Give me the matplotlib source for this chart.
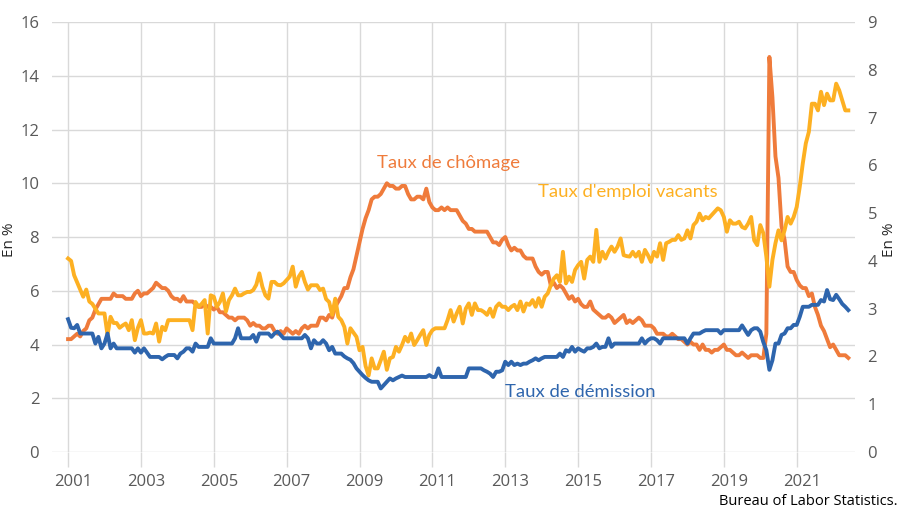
import numpy as np
import matplotlib
matplotlib.use("Agg")
import matplotlib.pyplot as plt
from matplotlib.transforms import ScaledTranslation

# Données mensuelles, janvier 2001 - juin 2022 (en %)
chomage = [
    4.2, 4.2, 4.3, 4.4, 4.3, 4.5, 4.6, 4.9, 5.0, 5.3, 5.5, 5.7,
    5.7, 5.7, 5.7, 5.9, 5.8, 5.8, 5.8, 5.7, 5.7, 5.7, 5.9, 6.0,
    5.8, 5.9, 5.9, 6.0, 6.1, 6.3, 6.2, 6.1, 6.1, 6.0, 5.8, 5.7,
    5.7, 5.6, 5.8, 5.6, 5.6, 5.6, 5.5, 5.4, 5.4, 5.5, 5.4, 5.4,
    5.3, 5.4, 5.2, 5.2, 5.1, 5.0, 5.0, 4.9, 5.0, 5.0, 5.0, 4.9,
    4.7, 4.8, 4.7, 4.7, 4.6, 4.6, 4.7, 4.7, 4.5, 4.4, 4.5, 4.4,
    4.6, 4.5, 4.4, 4.5, 4.4, 4.6, 4.7, 4.6, 4.7, 4.7, 4.7, 5.0,
    5.0, 4.9, 5.1, 5.0, 5.4, 5.6, 5.8, 6.1, 6.1, 6.5, 6.8, 7.3,
    7.8, 8.3, 8.7, 9.0, 9.4, 9.5, 9.5, 9.6, 9.8, 10.0, 9.9, 9.9,
    9.8, 9.8, 9.9, 9.9, 9.6, 9.4, 9.4, 9.5, 9.5, 9.4, 9.8, 9.3,
    9.1, 9.0, 9.0, 9.1, 9.0, 9.1, 9.0, 9.0, 9.0, 8.8, 8.6, 8.5,
    8.3, 8.3, 8.2, 8.2, 8.2, 8.2, 8.2, 8.0, 7.8, 7.8, 7.7, 7.9,
    8.0, 7.7, 7.5, 7.6, 7.5, 7.5, 7.3, 7.2, 7.2, 7.2, 6.9, 6.7,
    6.6, 6.7, 6.7, 6.2, 6.3, 6.1, 6.2, 6.1, 5.9, 5.7, 5.8, 5.6,
    5.7, 5.5, 5.4, 5.4, 5.6, 5.3, 5.2, 5.1, 5.0, 5.0, 5.1, 5.0,
    4.8, 4.9, 5.0, 5.1, 4.8, 4.9, 4.8, 4.9, 5.0, 4.9, 4.7, 4.7,
    4.7, 4.6, 4.4, 4.4, 4.4, 4.3, 4.3, 4.4, 4.3, 4.2, 4.2, 4.1,
    4.0, 4.1, 4.0, 4.0, 3.8, 4.0, 3.8, 3.8, 3.7, 3.8, 3.8, 3.9,
    4.0, 3.8, 3.8, 3.7, 3.6, 3.6, 3.7, 3.6, 3.5, 3.6, 3.6, 3.6,
    3.5, 3.5, 4.4, 14.7, 13.2, 11.0, 10.2, 8.4, 7.9, 6.9, 6.7, 6.7,
    6.4, 6.2, 6.1, 6.1, 5.8, 5.9, 5.4, 5.1, 4.7, 4.5, 4.2, 3.9,
    4.0, 3.8, 3.6, 3.6, 3.6, 3.5,
]

emplois_vacants = [
    4.05, 4.0, 3.7, 3.55, 3.4, 3.25, 3.4, 3.15, 3.1, 3.0, 2.9, 2.9,
    2.9, 2.45, 2.83, 2.7, 2.7, 2.6, 2.65, 2.69, 2.55, 2.76, 2.34, 2.6,
    2.76, 2.48, 2.48, 2.5, 2.48, 2.69, 2.31, 2.62, 2.55, 2.76, 2.76, 2.76,
    2.76, 2.76, 2.76, 2.76, 2.76, 2.55, 3.14, 3.04, 3.1, 3.18, 2.48, 3.28,
    3.25, 3.04, 3.14, 3.32, 2.94, 3.18, 3.28, 3.42, 3.28, 3.28, 3.32, 3.35,
    3.35, 3.39, 3.5, 3.74, 3.46, 3.28, 3.21, 3.56, 3.56, 3.5, 3.49, 3.53,
    3.6, 3.67, 3.88, 3.46, 3.67, 3.77, 3.56, 3.4, 3.49, 3.49, 3.49, 3.39,
    3.42, 3.2, 3.14, 2.87, 3.21, 2.83, 2.76, 2.62, 2.27, 2.59, 2.5, 2.41,
    2.13, 2.2, 1.8, 1.6, 1.96, 1.75, 1.75, 1.92, 2.1, 1.72, 1.96, 1.99,
    2.2, 2.1, 2.24, 2.41, 2.31, 2.48, 2.24, 2.34, 2.45, 2.55, 2.24, 2.45,
    2.55, 2.59, 2.59, 2.59, 2.59, 2.76, 2.97, 2.73, 2.9, 3.04, 2.69, 3.0,
    3.11, 2.87, 3.11, 2.97, 2.97, 2.93, 2.87, 3.0, 2.83, 3.04, 3.11, 3.04,
    3.04, 2.97, 3.04, 3.08, 2.97, 3.15, 2.94, 3.11, 3.08, 3.18, 3.04, 3.22,
    3.04, 3.25, 3.32, 3.49, 3.63, 3.7, 3.56, 4.19, 3.53, 3.67, 3.56, 3.81,
    3.91, 3.98, 3.63, 4.02, 4.09, 3.98, 4.65, 3.98, 4.19, 4.05, 4.19, 4.3,
    4.19, 4.3, 4.47, 4.12, 4.1, 4.09, 4.19, 4.09, 4.19, 3.98, 4.23, 4.12,
    3.98, 4.19, 4.09, 4.37, 4.02, 4.37, 4.4, 4.44, 4.44, 4.54, 4.44, 4.47,
    4.64, 4.47, 4.75, 4.82, 4.99, 4.85, 4.92, 4.89, 4.96, 5.03, 5.1, 5.06,
    4.92, 4.61, 4.85, 4.78, 4.78, 4.82, 4.71, 4.68, 4.78, 4.92, 4.43, 4.33,
    4.75, 4.58, 4.09, 3.46, 4.02, 4.37, 4.64, 4.43, 4.64, 4.92, 4.78, 4.92,
    5.13, 5.55, 6.04, 6.46, 6.7, 7.29, 7.29, 7.15, 7.54, 7.26, 7.5, 7.36,
    7.36, 7.71, 7.57, 7.36, 7.15, 7.15,
]

demission = [
    2.78, 2.6, 2.59, 2.66, 2.48, 2.48, 2.48, 2.48, 2.48, 2.27, 2.41, 2.17,
    2.27, 2.48, 2.17, 2.27, 2.17, 2.17, 2.17, 2.17, 2.17, 2.17, 2.08, 2.17,
    2.08, 2.17, 2.08, 1.99, 1.99, 1.99, 1.99, 1.94, 1.99, 2.03, 2.03, 2.03,
    1.96, 2.06, 2.1, 2.17, 2.17, 2.1, 2.27, 2.2, 2.2, 2.2, 2.2, 2.38,
    2.27, 2.27, 2.27, 2.27, 2.27, 2.27, 2.27, 2.38, 2.59, 2.38, 2.38, 2.38,
    2.38, 2.45, 2.31, 2.48, 2.48, 2.48, 2.48, 2.41, 2.48, 2.52, 2.45, 2.38,
    2.38, 2.38, 2.38, 2.38, 2.38, 2.38, 2.45, 2.38, 2.17, 2.34, 2.27, 2.27,
    2.34, 2.27, 2.13, 2.2, 2.06, 2.06, 2.06, 2.0, 1.96, 1.93, 1.86, 1.75,
    1.68, 1.61, 1.55, 1.5, 1.47, 1.47, 1.47, 1.33, 1.4, 1.47, 1.54, 1.5,
    1.54, 1.57, 1.6, 1.57, 1.57, 1.57, 1.57, 1.57, 1.57, 1.57, 1.57, 1.61,
    1.57, 1.57, 1.75, 1.57, 1.57, 1.57, 1.57, 1.57, 1.57, 1.57, 1.57, 1.57,
    1.75, 1.75, 1.75, 1.75, 1.75, 1.71, 1.68, 1.64, 1.57, 1.68, 1.68, 1.71,
    1.89, 1.82, 1.89, 1.82, 1.85, 1.82, 1.85, 1.85, 1.89, 1.92, 1.96, 1.92,
    1.96, 1.99, 1.99, 1.99, 1.99, 1.99, 2.06, 1.99, 2.13, 2.1, 2.2, 2.1,
    2.17, 2.13, 2.1, 2.17, 2.17, 2.2, 2.27, 2.17, 2.2, 2.2, 2.38, 2.2,
    2.27, 2.27, 2.27, 2.27, 2.27, 2.27, 2.27, 2.27, 2.27, 2.38, 2.27, 2.34,
    2.38, 2.38, 2.34, 2.27, 2.38, 2.38, 2.38, 2.38, 2.38, 2.38, 2.38, 2.38,
    2.27, 2.38, 2.48, 2.48, 2.48, 2.52, 2.55, 2.55, 2.55, 2.55, 2.55, 2.48,
    2.55, 2.55, 2.55, 2.55, 2.55, 2.55, 2.65, 2.55, 2.45, 2.55, 2.59, 2.59,
    2.52, 2.3, 2.13, 1.72, 1.92, 2.27, 2.27, 2.45, 2.48, 2.59, 2.59, 2.66,
    2.66, 2.83, 3.04, 3.04, 3.04, 3.08, 3.08, 3.08, 3.18, 3.15, 3.39, 3.2,
    3.18, 3.29, 3.2, 3.1, 3.04, 2.97,
]

annees_ticks = list(range(2001, 2022, 2))

# axe des x : mois exprimés en années décimales
mois = np.arange(len(chomage))
x = 2001 + mois / 12

orange = "#EF7B3B"
jaune = "#FDB022"
bleu = "#2E65AD"
gris = "#595959"
grille = "#D9D9D9"

plt.rcParams["font.family"] = ["Open Sans", "DejaVu Sans"]

fig = plt.figure(figsize=(9, 5.18), dpi=100)
ax = fig.add_axes([0.0574, 0.1274, 0.8926, 0.8301])
ax2 = ax.twinx()

ax.plot(x, chomage, color=orange, lw=2.8, zorder=3, solid_joinstyle="round")
ax2.plot(x, emplois_vacants, color=jaune, lw=2.8, zorder=3, solid_joinstyle="round")
ax2.plot(x, demission, color=bleu, lw=2.8, zorder=4, solid_joinstyle="round")

ax.set_xlim(2000.55, 2022.6)
ax.set_ylim(0, 16)
ax2.set_ylim(0, 9)
ax.set_yticks(range(0, 17, 2))
ax2.set_yticks(range(0, 10))
ax.set_xticks(annees_ticks)
ax.set_xticklabels([str(a) for a in annees_ticks])

for a in (ax, ax2):
    for s in a.spines.values():
        s.set_visible(False)

ax.grid(True, color=grille, lw=1)
ax.set_axisbelow(True)
ax.tick_params(axis="y", length=0, pad=9, labelsize=12, labelcolor=gris)
ax2.tick_params(axis="y", length=0, pad=9, labelsize=12, labelcolor=gris)
ax.tick_params(axis="x", length=11, width=1, color=grille, pad=5,
               labelsize=12, labelcolor=gris)

decal = ScaledTranslation(5 / 100, 0, fig.dpi_scale_trans)
for lbl in ax.get_xticklabels():
    lbl.set_transform(lbl.get_transform() + decal)

ax.set_ylabel("En %", fontsize=11, color="#262626")
ax2.set_ylabel("En %", fontsize=11, color="#262626")
ax.yaxis.set_label_coords(-0.043, 0.493)
ax2.yaxis.set_label_coords(1.034, 0.493)

ax.text(2011.45, 10.75, "Taux de chômage", color=orange, fontsize=13.3,
        family="Lato", ha="center", va="center")
ax.text(2016.36, 9.67, "Taux d'emploi vacants", color=jaune, fontsize=13.3,
        family="Lato", ha="center", va="center")
ax.text(2015.05, 2.23, "Taux de démission", color=bleu, fontsize=13.3,
        family="Lato", ha="center", va="center")

fig.text(0.997, 0.018, "Bureau of Labor Statistics.", ha="right", va="bottom",
         fontsize=10.5, color="black")

fig.savefig("out.png", dpi=100)
